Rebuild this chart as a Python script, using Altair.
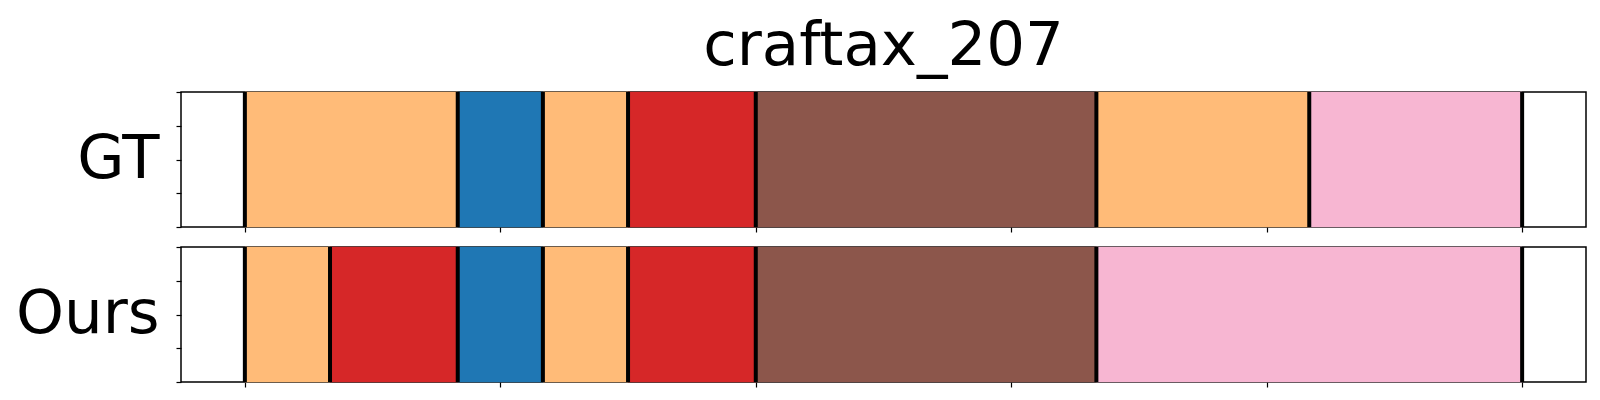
import altair as alt
import pandas as pd

TITLE = "craftax_207"

# Segments (time steps) for ground truth and prediction
gt_start = [0, 10, 14, 18, 24, 40, 50]
gt_end = [10, 14, 18, 24, 40, 50, 60]
gt_seg = ["a", "b", "a", "c", "d", "a", "e"]

ours_start = [0, 4, 10, 14, 18, 24, 40]
ours_end = [4, 10, 14, 18, 24, 40, 60]
ours_seg = ["a", "c", "b", "a", "c", "d", "e"]

gt_bounds = [0, 10, 14, 18, 24, 40, 50, 60]
ours_bounds = [0, 4, 10, 14, 18, 24, 40, 60]

seg_domain = ["a", "b", "c", "d", "e"]
seg_colors = ["#ffbb78", "#1f77b4", "#d62728", "#8c564b", "#f7b6d2"]

x_ticks = [0, 12, 24, 36, 48, 60]
y_ticks = [0, 0.25, 0.5, 0.75, 1]

W, H = 1405, 135
FONT = "DejaVu Sans"
FS = 61

xs = alt.Scale(domain=[-3, 63], nice=False, zero=False)
ys = alt.Scale(domain=[0, 1], nice=False, zero=False)
cs = alt.Scale(domain=seg_domain, range=seg_colors)


def panel(starts, ends, segs, bounds, label):
    df = pd.DataFrame({"start": starts, "end": ends, "seg": segs})
    bdf = pd.DataFrame({"b": bounds})
    rects = alt.Chart(df).mark_rect(strokeWidth=0.8, strokeOpacity=0.6).encode(
        x=alt.X("start:Q", scale=xs,
                axis=alt.Axis(values=x_ticks, labels=False, tickSize=5, domain=False,
                              grid=False, title=None)),
        x2="end:Q",
        y=alt.Y(datum=0, scale=ys,
                axis=alt.Axis(values=y_ticks, labels=False, tickSize=5, domain=False,
                              grid=False, title=label, titleAngle=0, titleAlign="right",
                              titleBaseline="middle", titleX=-22, titleY=H / 2,
                              titleFontSize=FS, titleFont=FONT, titleFontWeight="normal",
                              titleColor="black")),
        y2=alt.Y2(datum=1),
        color=alt.Color("seg:N", scale=cs, legend=None),
        stroke=alt.Color("seg:N", scale=cs, legend=None),
    )
    rules = alt.Chart(bdf).mark_rule(color="black", strokeWidth=4).encode(
        x=alt.X("b:Q", scale=xs)
    )
    return alt.layer(rects, rules).properties(width=W, height=H)


top = panel(gt_start, gt_end, gt_seg, gt_bounds, "GT").properties(
    title=alt.TitleParams(TITLE, fontSize=FS, font=FONT, fontWeight="normal",
                          frame="group", anchor="middle", offset=12, color="black")
)
bottom = panel(ours_start, ours_end, ours_seg, ours_bounds, "Ours")

chart = alt.vconcat(top, bottom, spacing=10).configure_view(
    stroke="black", strokeWidth=1.5
).configure_axis(tickColor="black", tickWidth=1.2).properties(
    padding={"left": 6, "right": 5, "top": 7, "bottom": 5}
)

chart.save("out.html", embed_options={"renderer": "svg", "actions": False})
